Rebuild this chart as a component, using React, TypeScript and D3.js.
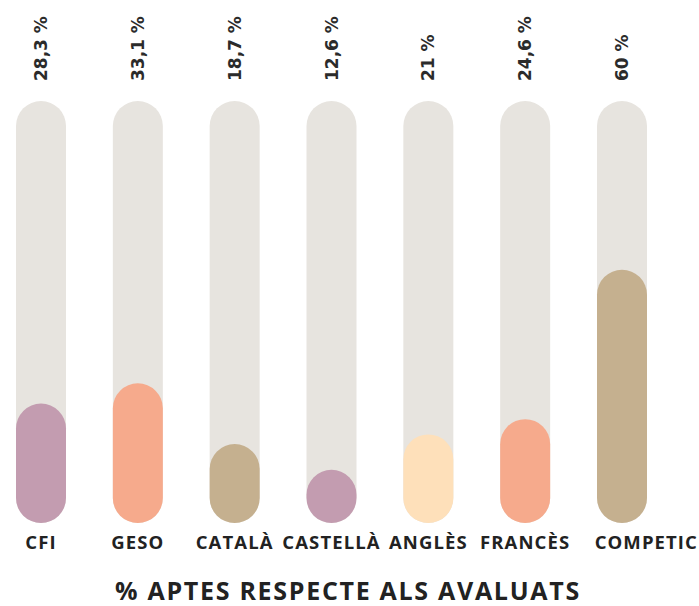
import React, { useEffect } from 'react';
import * as d3 from 'd3';

// categories and values
const categories = ['CFI', 'GESO', 'CATALÀ', 'CASTELLÀ', 'ANGLÈS', 'FRANCÈS', 'COMPETIC'];
const values = [28.3, 33.1, 18.7, 12.6, 21, 24.6, 60];
const valueLabels = ['28,3 %', '33,1 %', '18,7 %', '12,6 %', '21 %', '24,6 %', '60 %'];
const colors = ['#c39cb0', '#f6aa8c', '#c5b08f', '#c39cb0', '#fee0ba', '#f6aa8c', '#c5b08f'];
const title = '% APTES RESPECTE ALS AVALUATS';

const width = 699;
const height = 606;
const barW = 50;

const App = () => {
    useEffect(() => {
        document.body.style.margin = '0';
    }, []);

    let x = d3.scalePoint<string>()
        .domain(categories)
        .range([41, 622]);

    let y = d3.scaleLinear()
        .domain([0, 100])
        .range([523, 101]);

    const last = categories.length - 1;

    return (
        <svg width={width} height={height} style={{ display: 'block' }}>
            {categories.map((c, i) => {
                let cx = x(c) as number;
                return (
                    <g key={c}>
                        <rect
                            x={cx - barW / 2}
                            y={y(100)}
                            width={barW}
                            height={y(0) - y(100)}
                            rx={barW / 2}
                            fill="#e7e4df" />
                        <rect
                            x={cx - barW / 2}
                            y={y(values[i])}
                            width={barW}
                            height={y(0) - y(values[i])}
                            rx={barW / 2}
                            fill={colors[i]} />
                        <text
                            transform={`translate(${cx},81) rotate(-90)`}
                            dy="0.36em"
                            fontFamily="'DejaVu Sans', sans-serif"
                            fontWeight="bold"
                            fontSize={17}
                            fill="#2b2b2b">
                            {valueLabels[i]}
                        </text>
                        {/* last label runs to the right edge like in the original */}
                        <text
                            x={i === last ? width - 1 : cx}
                            y={549}
                            textAnchor={i === last ? 'end' : 'middle'}
                            fontFamily="'Open Sans', sans-serif"
                            fontWeight={700}
                            fontSize={18.5}
                            letterSpacing={1.1}
                            fill="#222">
                            {c}
                        </text>
                    </g>
                );
            })}
            <text
                x={348}
                y={600}
                textAnchor="middle"
                fontFamily="'Open Sans', sans-serif"
                fontWeight={700}
                fontSize={25}
                letterSpacing={1.7}
                fill="#222">
                {title}
            </text>
        </svg>
    );
};

export default App;
